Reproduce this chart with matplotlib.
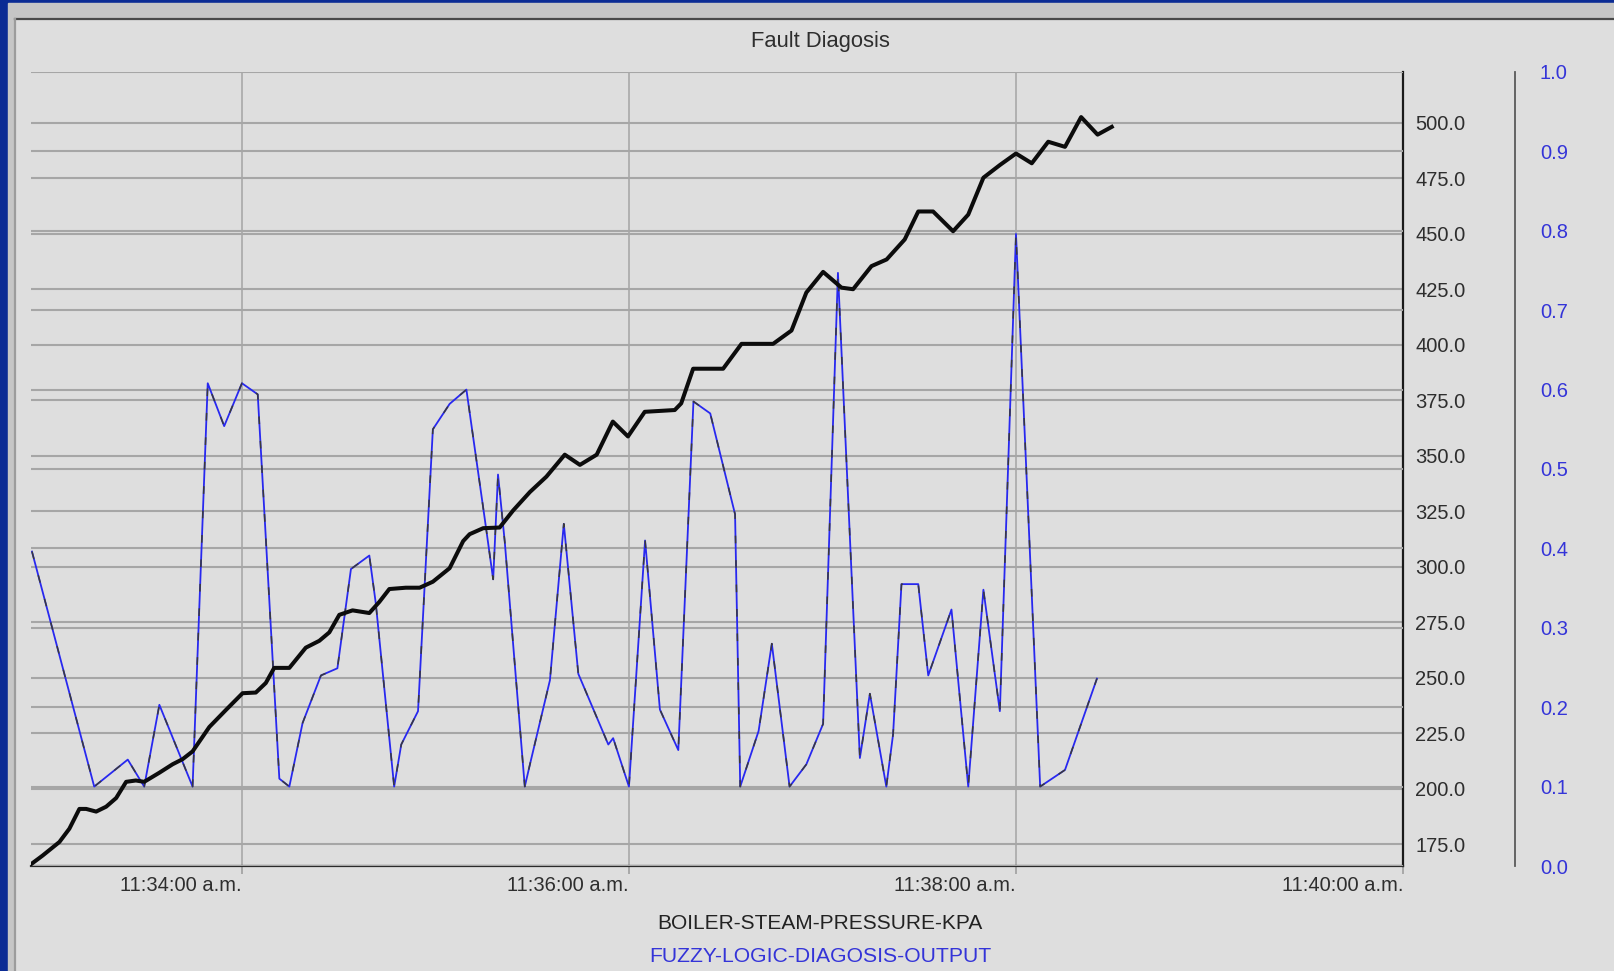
import matplotlib
matplotlib.use('Agg')
import matplotlib.pyplot as plt
import numpy as np
from matplotlib import font_manager
from matplotlib.lines import Line2D
from matplotlib.patches import Rectangle

# time axis is in seconds after 11:30:00 a.m.
pressure_t = [174.6, 178.2, 183.4, 186.5, 189.6, 191.7, 194.8, 197.9, 201.0, 204.1,
              207.1, 209.7, 214.4, 218.5, 221.6, 224.7, 229.9, 235.0, 240.2, 244.3,
              247.4, 250.0, 254.7, 259.8, 264.0, 267.1, 270.2, 274.3, 279.5, 282.6,
              285.7, 290.8, 295.1, 299.2, 304.4, 308.6, 310.6, 314.8, 319.9, 324.1,
              329.3, 334.4, 340.1, 344.8, 350.0, 355.0, 359.7, 364.9, 374.2, 376.2,
              379.9, 389.2, 394.9, 404.7, 410.4, 415.0, 420.2, 425.9, 429.5, 435.2,
              439.9, 445.5, 449.7, 454.3, 460.5, 465.2, 469.9, 475.0, 480.0, 484.9,
              490.0, 495.2, 500.2, 505.3, 509.7]
pressure_kpa = [166.1, 170.0, 176.1, 182.1, 191.0, 191.0, 189.8, 192.0, 195.9, 203.2,
                203.8, 203.2, 207.3, 211.1, 213.4, 216.9, 227.9, 235.5, 243.1, 243.4,
                247.7, 254.5, 254.5, 263.6, 266.7, 270.5, 278.4, 280.4, 279.2, 284.2,
                290.0, 290.6, 290.6, 293.3, 299.4, 311.6, 314.7, 317.4, 317.7, 325.4,
                333.7, 340.6, 350.5, 345.9, 350.5, 365.4, 358.7, 369.8, 370.6, 373.6,
                389.2, 389.2, 400.4, 400.4, 406.4, 423.5, 432.8, 425.7, 425.0, 435.4,
                438.4, 447.4, 460.0, 460.0, 451.1, 458.6, 475.2, 480.9, 486.1, 481.7,
                491.4, 489.1, 502.5, 494.6, 498.1]

fuzzy_t = [174.9, 194.2, 204.6, 209.7, 214.4, 224.7, 229.4, 234.5, 240.0, 244.9,
           251.6, 254.7, 258.8, 264.5, 269.6, 273.8, 279.5, 281.5, 287.2, 289.4,
           294.6, 299.2, 304.4, 309.6, 315.3, 317.9, 319.4, 321.5, 327.7, 329.3,
           335.5, 339.8, 344.3, 353.6, 355.1, 360.0, 365.0, 369.6, 375.3, 380.0,
           385.2, 392.9, 394.5, 400.2, 404.3, 409.8, 415.0, 420.2, 424.8, 431.6,
           434.7, 439.8, 441.9, 444.5, 449.7, 452.8, 460.0, 465.2, 469.9, 475.0,
           480.0, 487.5, 495.2, 505.1]
fuzzy_out = [0.396, 0.100, 0.134, 0.100, 0.203, 0.100, 0.608, 0.554, 0.608, 0.594,
             0.110, 0.100, 0.180, 0.240, 0.249, 0.374, 0.391, 0.331, 0.100, 0.153,
             0.195, 0.550, 0.582, 0.600, 0.437, 0.361, 0.493, 0.408, 0.100, 0.128,
             0.234, 0.431, 0.242, 0.153, 0.161, 0.100, 0.410, 0.197, 0.146, 0.585,
             0.570, 0.443, 0.100, 0.170, 0.280, 0.100, 0.128, 0.179, 0.747, 0.136,
             0.217, 0.100, 0.166, 0.355, 0.355, 0.240, 0.323, 0.100, 0.348, 0.195,
             0.796, 0.100, 0.121, 0.236]

time_ticks = [240, 360, 480, 600]
time_labels = ['11:34:00 a.m.', '11:36:00 a.m.', '11:38:00 a.m.', '11:40:00 a.m.']
pressure_ticks = np.arange(175, 501, 25)
fuzzy_ticks = np.round(np.arange(0, 1.01, 0.1), 1)

BLUE = '#2828f0'
LABEL_BLUE = '#3434d8'
GRID = '#a6a6a6'
TEXT = '#2e2e2e'

installed = {f.name for f in font_manager.fontManager.ttflist}
family = next(n for n in ['Liberation Sans Narrow', 'Liberation Sans', 'DejaVu Sans']
              if n in installed)
plt.rcParams['font.family'] = family

W, H = 1615, 971


def fx(px):
    return px / W


def fy(py):
    return 1 - py / H


fig = plt.figure(figsize=(W / 100, H / 100), dpi=100, facecolor='#0b2b94')

# window frame: grey border band, lighter chart panel with a dark edge
fig.patches.append(Rectangle((fx(8), 0), 1, fy(3), transform=fig.transFigure,
                             color='#c6c6c6', zorder=-5))
fig.patches.append(Rectangle((fx(15), 0), 1, fy(19), transform=fig.transFigure,
                             color='#dedede', zorder=-4))
fig.lines.append(Line2D([fx(15), 1], [fy(19.5), fy(19.5)], transform=fig.transFigure,
                        color='#4a4a4a', lw=1.6))
fig.lines.append(Line2D([fx(15.5), fx(15.5)], [0, fy(19.5)], transform=fig.transFigure,
                        color='#9c9c9c', lw=1.6))

ax = fig.add_axes([fx(31), fy(866), fx(1403) - fx(31), fy(72) - fy(866)])
ax.set_facecolor('#dedede')
ax2 = ax.twinx()

# pressure scale sits just right of the plot
ax.yaxis.tick_right()
ax.set_yticks(pressure_ticks, [f'{v:.1f}' for v in pressure_ticks])
ax.set_ylim(165.3, 522.8)
ax.tick_params(axis='y', length=0, pad=9, labelsize=14.5, labelcolor=TEXT)
ax.grid(axis='y', color=GRID, lw=1.5)

ax.set_xticks(time_ticks, time_labels)
for lab in ax.get_xticklabels():
    lab.set_horizontalalignment('right')
ax.tick_params(axis='x', length=6, width=1.3, color='#a4a4a4', pad=1,
               labelsize=14.5, labelcolor=TEXT)
ax.grid(axis='x', color='#a8a8a8', lw=1.2)
ax.set_xlim(174.6, 600)

for side in ['left', 'top']:
    ax.spines[side].set_visible(False)
ax.spines['bottom'].set_color('#2a2a2a')
ax.spines['bottom'].set_linewidth(1.6)
ax.spines['right'].set_color('#1a1a1a')
ax.spines['right'].set_linewidth(1.6)

# fuzzy output scale, pushed further out
ax2.set_yticks(fuzzy_ticks, [f'{v:.1f}' for v in fuzzy_ticks])
ax2.set_ylim(0, 1)
ax2.tick_params(axis='y', length=0, pad=18, labelsize=14.5, labelcolor=LABEL_BLUE)
ax2.grid(axis='y', color=GRID, lw=1.5)
for side in ['left', 'top', 'bottom']:
    ax2.spines[side].set_visible(False)
ax2.spines['right'].set_position(('outward', 112 * 0.72))
ax2.spines['right'].set_color('#5a5a5a')
ax2.spines['right'].set_linewidth(1.3)

ax2.plot(fuzzy_t, fuzzy_out, color=BLUE, lw=1.3, zorder=3)
ax2.plot(fuzzy_t, fuzzy_out, color='#3a3a3a', lw=1.1, dashes=(5, 11), zorder=3.1)
# pressure trace drawn in the front layer but on the pressure scale
ax2.plot(pressure_t, pressure_kpa, color='#0c0c0c', lw=2.9, zorder=4,
         solid_joinstyle='round', transform=ax.transData)
ax2.set_xlim(174.6, 600)
ax2.set_ylim(0, 1)

fig.text(fx(820), fy(41), 'Fault Diagosis', ha='center', va='center',
         fontsize=15.8, color=TEXT)
fig.text(fx(820), fy(923), 'BOILER-STEAM-PRESSURE-KPA', ha='center', va='center',
         fontsize=15, color='#222222')
fig.text(fx(820), fy(956), 'FUZZY-LOGIC-DIAGOSIS-OUTPUT', ha='center', va='center',
         fontsize=15.2, color=LABEL_BLUE)

fig.savefig('out.png', dpi=100, facecolor=fig.get_facecolor())
